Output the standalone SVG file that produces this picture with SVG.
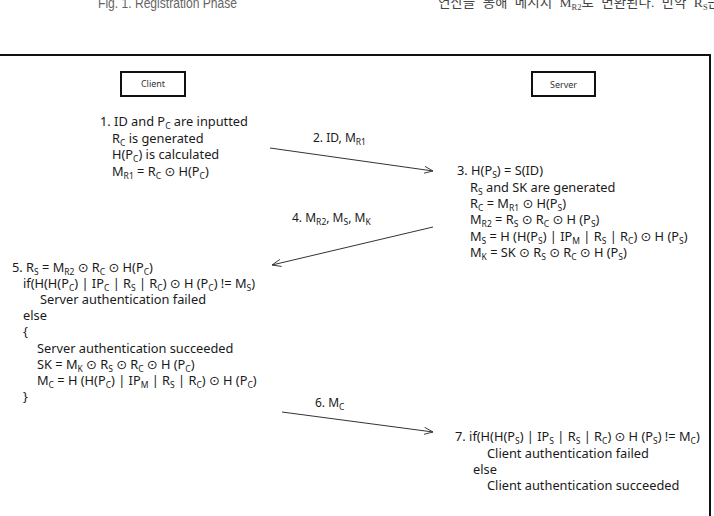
<svg xmlns="http://www.w3.org/2000/svg" width="714" height="516" viewBox="0 0 714 516">
<style>
.t{font-family:"Noto Sans","DejaVu Sans",sans-serif;font-size:12.8px;fill:#1a1a1a}
.l{font-family:"Noto Sans","DejaVu Sans",sans-serif;font-size:12px;fill:#1a1a1a}
.s{font-size:8.5px;baseline-shift:-3px}
.box{fill:#fff;stroke:#111;stroke-width:2}
.bt{font-family:"Noto Sans","DejaVu Sans",sans-serif;font-size:9px;fill:#333;text-anchor:middle}
.c{stroke:#333;stroke-width:1;fill:none;marker-end:url(#ah)}
.hd{font-family:"Liberation Sans","DejaVu Sans",sans-serif;font-size:14px;fill:#666}
.kr{font-family:"Liberation Serif","Noto Sans CJK KR",serif;font-size:13.5px;fill:#444;word-spacing:4px}
</style>
<defs>
<marker id="ah" viewBox="0 0 10 10" refX="10" refY="5" markerWidth="9" markerHeight="9" orient="auto" markerUnits="userSpaceOnUse">
<path d="M0,1 L10,5 L0,9" fill="none" stroke="#333" stroke-width="1"/>
</marker>
</defs>
<rect width="714" height="516" fill="#fff"/>
<g id="header">
<text class="hd" x="98" y="7.5" textLength="139" lengthAdjust="spacingAndGlyphs">Fig. 1. Registration Phase</text>
<text class="kr" x="438" y="7">연산을 통해 메시지 M<tspan class="s">R2</tspan>로 변환된다. 만약 R<tspan class="s">S</tspan>는</text>
</g>
<g id="frame">
<line x1="0" y1="55" x2="711" y2="55" stroke="#111" stroke-width="2"/>
<line x1="710" y1="54" x2="710" y2="516" stroke="#111" stroke-width="2"/>
</g>
<g id="client">
<rect class="box" x="121" y="72" width="64" height="24"/>
<text class="bt" x="153" y="87">Client</text>
</g>
<g id="server">
<rect class="box" x="532" y="72" width="63" height="24"/>
<text class="bt" x="563.5" y="88">Server</text>
</g>
<g id="step1">
<text class="t" x="100" y="126">1. ID and P<tspan class="s">C</tspan> are inputted</text>
<text class="t" x="112" y="142.5">R<tspan class="s">C</tspan> is generated</text>
<text class="t" x="112" y="159">H(P<tspan class="s">C</tspan>) is calculated</text>
<text class="t" x="112" y="175.5">M<tspan class="s">R1</tspan> = R<tspan class="s">C</tspan> ⊙ H(P<tspan class="s">C</tspan>)</text>
</g>
<g id="step3">
<text class="t" x="457" y="175">3. H(P<tspan class="s">S</tspan>) = S(ID)</text>
<text class="t" x="470" y="191.5">R<tspan class="s">S</tspan> and SK are generated</text>
<text class="t" x="470" y="208">R<tspan class="s">C</tspan> = M<tspan class="s">R1</tspan> ⊙ H(P<tspan class="s">S</tspan>)</text>
<text class="t" x="470" y="224.3">M<tspan class="s">R2</tspan> = R<tspan class="s">S</tspan> ⊙ R<tspan class="s">C</tspan> ⊙ H (P<tspan class="s">S</tspan>)</text>
<text class="t" x="470" y="240.6">M<tspan class="s">S</tspan> = H (H(P<tspan class="s">S</tspan>) | IP<tspan class="s">M</tspan> | R<tspan class="s">S</tspan> | R<tspan class="s">C</tspan>) ⊙ H (P<tspan class="s">S</tspan>)</text>
<text class="t" x="470" y="256.8">M<tspan class="s">K</tspan> = SK ⊙ R<tspan class="s">S</tspan> ⊙ R<tspan class="s">C</tspan> ⊙ H (P<tspan class="s">S</tspan>)</text>
</g>
<g id="step5">
<text class="t" x="12" y="272">5. R<tspan class="s">S</tspan> = M<tspan class="s">R2</tspan> ⊙ R<tspan class="s">C</tspan> ⊙ H(P<tspan class="s">C</tspan>)</text>
<text class="t" x="23" y="288">if(H(H(P<tspan class="s">C</tspan>) | IP<tspan class="s">C</tspan> | R<tspan class="s">S</tspan> | R<tspan class="s">C</tspan>) ⊙ H (P<tspan class="s">C</tspan>) != M<tspan class="s">S</tspan>)</text>
<text class="t" x="40" y="303.5">Server authentication failed</text>
<text class="t" x="23" y="320">else</text>
<text class="t" x="23" y="336">{</text>
<text class="t" x="37" y="352.5">Server authentication succeeded</text>
<text class="t" x="37" y="368.5">SK = M<tspan class="s">K</tspan> ⊙ R<tspan class="s">S</tspan> ⊙ R<tspan class="s">C</tspan> ⊙ H (P<tspan class="s">C</tspan>)</text>
<text class="t" x="37" y="385">M<tspan class="s">C</tspan> = H (H(P<tspan class="s">C</tspan>) | IP<tspan class="s">M</tspan> | R<tspan class="s">S</tspan> | R<tspan class="s">C</tspan>) ⊙ H (P<tspan class="s">C</tspan>)</text>
<text class="t" x="23" y="401">}</text>
</g>
<g id="step7">
<text class="t" x="455" y="441">7. if(H(H(P<tspan class="s">S</tspan>) | IP<tspan class="s">S</tspan> | R<tspan class="s">S</tspan> | R<tspan class="s">C</tspan>) ⊙ H (P<tspan class="s">S</tspan>) != M<tspan class="s">C</tspan>)</text>
<text class="t" x="487" y="457.5">Client authentication failed</text>
<text class="t" x="473" y="473.5">else</text>
<text class="t" x="487" y="490">Client authentication succeeded</text>
</g>
<g id="connectors">
<line class="c" x1="270" y1="148" x2="433" y2="171"/>
<text class="l" x="313" y="142">2. ID, M<tspan class="s">R1</tspan></text>
<line class="c" x1="433" y1="227" x2="272" y2="265"/>
<text class="l" x="292" y="222">4. M<tspan class="s">R2</tspan>, M<tspan class="s">S</tspan>, M<tspan class="s">K</tspan></text>
<line class="c" x1="282" y1="412" x2="433" y2="432"/>
<text class="l" x="315" y="407">6. M<tspan class="s">C</tspan></text>
</g>
</svg>
